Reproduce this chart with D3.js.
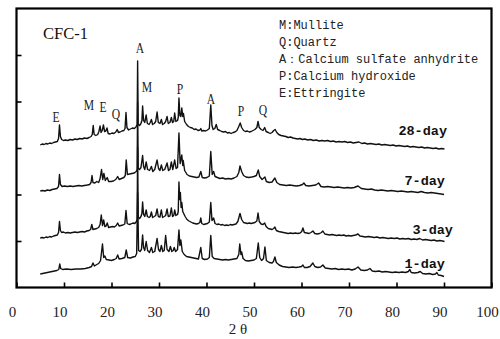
<!DOCTYPE html>
<html><head><meta charset="utf-8">
<script src="https://cdn.jsdelivr.net/npm/d3@7/dist/d3.min.js"></script>
<style>body{margin:0;background:#fff}svg{display:block}</style>
</head><body>
<svg id="c" width="500" height="339"></svg>
<script>
// ---- data (2θ in degrees, intensity in a.u.) ----
const xTicks = [0,10,20,30,40,50,60,70,80,90,100];
const yTicks = [46.5,93,139.5,186,232.5];
const seriesNames = ["28-day","7-day","3-day","1-day"];
const phaseNames = ["M:Mullite","Q:Quartz","A：Calcium sulfate anhydrite","P:Calcium hydroxide","E:Ettringite"];
const peakTags = ["E","M","E","Q","A","M","P","A","P","Q"];

const day28 = [[5.0,142.5],[5.4,143.5],[5.8,143],[6.2,144],[6.6,143.5],[7.0,144.5],[7.4,144],[7.8,145],[8.2,145.5],[8.6,146],[8.85,149],[9.05,162.5],[9.25,151],[9.5,148],[9.9,147],[10.3,147.5],[10.8,147],[11.3,148],[11.8,147.5],[12.3,148.5],[12.8,148],[13.3,149],[13.8,148.5],[14.3,149.5],[14.8,149],[15.3,150],[15.7,151],[15.95,153],[16.15,162],[16.35,153],[16.7,152],[17.1,153],[17.35,156],[17.6,161.5],[17.8,155],[18.05,157],[18.3,162.5],[18.55,156],[18.8,156.5],[19.05,159.5],[19.3,154],[19.7,153.5],[20.1,154.5],[20.5,154],[20.9,155.5],[21.2,158],[21.45,155],[21.8,155.5],[22.2,156.5],[22.6,157],[22.85,159],[23.05,175],[23.25,160],[23.6,157.5],[24.0,158.5],[24.4,159.5],[24.8,159],[25.15,160.5],[25.4,163],[25.5,226.5],[25.62,163],[25.9,162],[26.2,164],[26.4,167],[26.55,181.5],[26.75,167],[27.0,165],[27.3,172.5],[27.55,164],[27.9,163],[28.15,165],[28.4,168],[28.65,163],[29.0,164],[29.3,166],[29.6,175.5],[29.85,165],[30.2,164],[30.5,168],[30.75,163],[31.1,164],[31.4,166],[31.7,171],[31.95,164],[32.3,165],[32.6,170],[32.85,165],[33.1,166],[33.3,174.5],[33.55,166],[33.9,167],[34.05,170],[34.2,189.5],[34.4,172],[34.6,171],[34.8,179.5],[35.0,171],[35.15,174],[35.4,166],[35.8,163],[36.2,161],[36.6,160],[37.0,159.5],[37.4,158],[37.8,158.5],[38.2,157],[38.6,157.5],[38.8,159],[39.0,156.5],[39.4,157],[39.8,156.5],[40.2,157.5],[40.6,159],[40.9,182.5],[41.15,162],[41.4,158],[41.75,159],[42.05,163],[42.35,158],[42.8,157],[43.2,156],[43.6,155.5],[44.0,156],[44.4,154.5],[44.8,155],[45.2,154],[45.6,155],[46.0,155.5],[46.4,157],[46.75,160.5],[47.1,164.5],[47.4,160],[47.8,157],[48.2,156],[48.6,156.5],[49.0,155.5],[49.4,156],[49.8,157],[50.2,158],[50.6,160],[50.85,166],[51.1,160],[51.5,158],[51.9,157],[52.25,160],[52.55,156],[53.0,155],[53.4,154],[53.8,155],[54.15,157],[54.45,158],[54.8,155],[55.2,153],[55.7,152],[56.2,151.5],[56.7,151],[57.2,150],[57.7,150.5],[58.2,149.5],[58.7,149],[59.2,148.5],[59.7,149],[60.2,148],[60.7,148.5],[61.3,147.5],[61.9,148],[62.5,147],[63.1,147.5],[63.7,146.5],[64.3,147],[64.9,146.5],[65.5,147],[66.1,146],[66.7,146.5],[67.3,145.5],[67.9,146],[68.5,145.5],[69.1,146],[69.7,145],[70.3,145.5],[70.9,144.5],[71.5,145],[72.1,145.5],[72.7,144],[73.3,144.5],[73.9,143.5],[74.5,144],[75.1,143.5],[75.7,143],[76.3,143.5],[76.9,142.5],[77.5,143],[78.1,142.5],[78.7,142],[79.3,142.5],[79.9,141.5],[80.5,142],[81.1,141.5],[81.7,141],[82.3,141.5],[82.9,140.5],[83.5,141],[84.1,140.5],[84.7,140],[85.3,140.5],[85.9,139.5],[86.5,140],[87.1,139.5],[87.7,139],[88.3,139.5],[88.9,138.5],[89.5,139],[90.1,138.5]];

const day7 = [[5.0,96.5],[5.5,97],[6.0,96.5],[6.5,97.5],[7.0,97],[7.5,98],[8.0,98.5],[8.5,99],[8.85,101],[9.05,113],[9.25,103],[9.6,101],[10.1,101.5],[10.7,101],[11.3,101.5],[11.9,101],[12.5,101.5],[13.1,102],[13.7,101.5],[14.3,102],[14.9,102.5],[15.4,103],[15.7,105],[15.9,112],[16.1,105],[16.5,104.5],[16.9,106],[17.3,105],[17.6,109],[17.9,118],[18.15,108],[18.4,114],[18.7,107],[19.1,110],[19.4,106],[19.9,106],[20.4,106.5],[20.9,108],[21.3,111],[21.6,108],[22.1,109],[22.6,110],[22.9,112],[23.1,127.5],[23.35,113],[23.8,113.5],[24.3,114],[24.8,114.5],[25.2,116],[25.4,118],[25.5,185],[25.62,119],[25.9,118],[26.2,120],[26.55,132],[26.75,121],[27.0,118],[27.3,125.5],[27.6,118],[28.0,117],[28.4,121],[28.7,116],[29.1,118],[29.6,127.5],[29.9,119],[30.2,117],[30.5,122.5],[30.8,117],[31.2,118],[31.7,124.5],[32.0,117],[32.3,118],[32.6,125.5],[32.9,118],[33.3,127.5],[33.6,119],[33.9,120],[34.2,154.5],[34.45,124],[34.8,132.5],[35.0,122],[35.1,127],[35.4,117],[35.9,113],[36.4,111.5],[36.9,111],[37.4,110.5],[37.9,110],[38.4,110.5],[38.8,116],[39.1,110],[39.6,109.5],[40.1,110],[40.6,111.5],[40.9,136],[41.2,113],[41.5,116],[41.8,111],[42.3,110],[42.8,109],[43.4,109.5],[44.0,108.5],[44.6,109],[45.2,108.5],[45.8,109.5],[46.4,111],[46.8,115],[47.05,121.5],[47.4,116],[47.8,112],[48.3,110.5],[48.9,110],[49.5,110.5],[50.0,111],[50.5,112],[50.9,117.5],[51.2,111],[51.7,108],[52.3,110.5],[52.6,106],[53.2,105],[53.8,105.5],[54.4,109.5],[54.8,105],[55.4,103],[56.1,102.5],[56.8,102],[57.5,102.5],[58.2,102],[58.9,101.5],[59.6,102],[60.2,103],[60.5,104.5],[60.9,102],[61.6,101.5],[62.3,102],[63.0,102.5],[63.6,104.5],[64.1,101],[64.8,100.5],[65.5,101],[66.2,100.5],[66.9,100],[67.6,100.5],[68.3,100],[69.0,99.5],[69.7,100],[70.4,99.5],[71.1,100],[71.9,101.5],[72.6,99],[73.3,98.5],[74.0,98],[74.7,98.5],[75.4,97.5],[76.1,97],[76.8,97.5],[77.5,97],[78.2,96.5],[78.9,97],[79.6,96.5],[80.3,96],[81.0,96.5],[81.7,96],[82.4,95.5],[83.1,96],[83.8,95.5],[84.5,95],[85.2,96],[85.9,95],[86.6,94.5],[87.3,95],[88.0,94.5],[88.7,94],[89.4,93.5],[90.0,93]];

const day3 = [[5.0,49.5],[5.4,50],[5.8,49.5],[6.2,50.5],[6.6,50],[7.0,51],[7.4,50.5],[7.8,51.5],[8.2,52],[8.6,52.5],[8.85,55],[9.05,66],[9.25,57],[9.5,55],[9.9,55.5],[10.3,54.5],[10.8,55],[11.3,54.5],[11.8,55],[12.3,55.5],[12.8,55],[13.3,55.5],[13.8,56],[14.3,55.5],[14.8,56.5],[15.3,57],[15.6,58],[15.85,63],[16.1,58],[16.5,58.5],[16.9,59],[17.3,60],[17.6,63],[17.85,72.5],[18.1,62],[18.35,67.5],[18.6,61],[18.85,61.5],[19.1,64.5],[19.4,60],[19.8,60.5],[20.2,61],[20.6,60.5],[21.0,62],[21.3,64.5],[21.6,61.5],[22.0,62],[22.4,62.5],[22.8,63.5],[23.05,77],[23.3,64],[23.7,63],[24.1,63.5],[24.5,64.5],[24.9,64],[25.25,66],[25.4,68],[25.5,140],[25.62,70],[25.9,69],[26.2,71],[26.4,74],[26.55,85.5],[26.75,73],[27.0,71],[27.3,77.5],[27.55,71],[27.9,70],[28.15,71],[28.4,75.5],[28.65,70],[29.0,71],[29.3,72],[29.6,78.5],[29.85,71],[30.2,70.5],[30.5,77.5],[30.75,70],[31.1,71],[31.4,72],[31.7,78.5],[31.95,71],[32.3,71.5],[32.6,79.5],[32.85,71],[33.1,72],[33.3,77.5],[33.55,72],[33.9,73],[34.05,76],[34.2,105.5],[34.35,88],[34.5,95],[34.65,80],[34.8,85],[35.0,76],[35.2,74],[35.5,71],[35.9,68],[36.3,66.5],[36.7,65.5],[37.1,64.5],[37.5,64],[37.9,63.5],[38.3,64],[38.6,65],[38.8,69.5],[39.0,64],[39.4,63],[39.8,63.5],[40.2,64],[40.6,65.5],[40.9,85],[41.15,67],[41.5,69.5],[41.8,64],[42.2,63],[42.6,63.5],[43.0,62.5],[43.4,63],[43.8,62],[44.2,62.5],[44.6,62],[45.0,63],[45.4,62.5],[45.8,63],[46.2,63.5],[46.6,66],[47.05,74],[47.4,68],[47.8,65],[48.2,64.5],[48.6,64],[49.0,64.5],[49.4,64],[49.8,64.5],[50.2,65],[50.6,66.5],[50.85,74.5],[51.1,66],[51.5,63.5],[51.9,63],[52.25,64.5],[52.55,61],[53.0,59],[53.4,58.5],[53.8,58],[54.15,59],[54.4,60.5],[54.7,57],[55.2,56],[55.7,55.5],[56.2,55],[56.7,54.5],[57.2,54],[57.7,54.5],[58.2,54],[58.7,54.5],[59.2,54],[59.7,54.5],[60.05,56],[60.3,59.5],[60.6,55],[61.1,54.5],[61.6,54],[62.0,55],[62.4,56.5],[62.8,54],[63.3,53.5],[63.8,54],[64.2,55],[64.5,56.5],[64.9,53.5],[65.4,53],[65.9,52.5],[66.4,53],[66.9,52.5],[67.4,52],[67.9,52.5],[68.4,52],[68.9,52.5],[69.4,51.5],[69.9,52],[70.4,51.5],[70.9,52],[71.4,52.5],[71.9,53.5],[72.3,51.5],[72.9,51],[73.5,50.5],[74.1,51],[74.7,50.5],[75.3,50],[75.9,50.5],[76.5,49.5],[77.1,50],[77.7,49.5],[78.3,49],[78.9,49.5],[79.5,49],[80.1,49.5],[80.7,48.5],[81.3,49],[81.9,48.5],[82.5,49],[83.1,48],[83.7,48.5],[84.3,48],[84.9,49],[85.5,47.5],[86.1,48],[86.7,47.5],[87.3,47],[87.9,47.5],[88.5,46.5],[89.1,47],[89.7,46.5],[90.1,46]];

const day1 = [[5.0,13.5],[5.5,14],[6.0,14.5],[6.5,15],[7.0,15.5],[7.5,16],[8.0,16.5],[8.5,17],[8.9,18],[9.1,23.5],[9.3,19],[9.7,18],[10.5,18.5],[11.5,18],[12.5,18.5],[13.5,18.5],[14.5,19],[15.3,20],[15.8,21],[16.1,24.5],[16.4,21.5],[16.9,23],[17.3,24],[17.7,27],[18.1,43.5],[18.35,30],[18.6,31.5],[18.9,28],[19.5,27.5],[20.0,27],[20.6,28],[21.0,29],[21.3,32.5],[21.6,28.5],[22.2,29],[22.8,30],[23.1,37.5],[23.4,30],[24.0,29.5],[24.5,30.5],[25.0,31],[25.3,34],[25.5,95],[25.7,37],[26.0,36],[26.3,38],[26.55,52.5],[26.75,40],[27.0,37],[27.3,46],[27.6,37],[28.0,35],[28.4,40],[28.7,35],[29.1,36],[29.6,49],[29.9,38],[30.2,36],[30.5,42],[30.8,36],[31.1,37],[31.4,52],[31.7,38],[32.1,36],[32.4,41],[32.7,36],[33.0,37],[33.2,40],[33.5,36],[33.9,38],[34.2,57.5],[34.4,42],[34.6,47.5],[34.9,36],[35.3,33],[35.8,31],[36.3,30.5],[36.8,30],[37.3,29.5],[37.8,29],[38.3,28.5],[38.8,40],[39.1,29],[39.6,28],[40.2,28.5],[40.6,30],[40.9,52],[41.2,31],[41.6,29],[42.2,28.5],[42.8,28],[43.4,27.5],[44.0,28],[44.6,27.5],[45.2,28],[45.8,28.5],[46.4,29],[46.8,33],[47.0,43.5],[47.25,33],[47.4,35.5],[47.7,29],[48.2,27],[48.8,26.5],[49.4,27],[50.0,27.5],[50.5,29],[50.9,44.5],[51.2,30],[51.6,27],[52.0,29],[52.3,40.5],[52.6,27],[53.2,25],[53.8,24.5],[54.1,26],[54.4,30.5],[54.7,25],[55.3,22.5],[56.0,21],[56.7,20.5],[57.4,20],[58.1,20.5],[58.8,20],[59.5,20.5],[60.0,21],[60.3,22.5],[60.6,20],[61.2,20],[61.8,21],[62.4,24.5],[62.8,21],[63.4,20],[64.0,20.5],[64.5,22.5],[65.0,19.5],[65.7,19],[66.4,18.5],[67.1,19],[67.8,18],[68.5,18.5],[69.2,18],[69.9,18.5],[70.6,17.5],[71.3,18.5],[71.9,20.5],[72.5,17.5],[73.2,17],[73.9,17.5],[74.4,19],[74.9,16.5],[75.6,16],[76.3,16.5],[77.0,15.5],[77.7,16],[78.4,15.5],[79.1,15],[79.8,15.5],[80.5,15],[81.2,15.5],[81.9,15],[82.5,16],[82.8,18],[83.1,15],[83.8,14.5],[84.5,15],[85.0,16],[85.5,14],[86.2,13.5],[86.9,14],[87.6,13],[88.2,13.5],[88.5,15],[88.8,12.5],[89.4,12],[90.0,11]];

const seriesData = [day28, day7, day3, day1];

// ---- layout ----
const W = 500, H = 339;
const L = 16.5, R = 491.5, T = 8.5, B = 287.5;
const svg = d3.select("#c");
const x = d3.scaleLinear().domain([0,100]).range([L,R]);
const y = d3.scaleLinear().domain([0,279]).range([B,T]);

// traces
const line = d3.line().x(d => x(d[0])).y(d => y(d[1]));
svg.append("g").selectAll("path").data(seriesData).join("path")
  .attr("d", line).attr("fill","none").attr("stroke","#111")
  .attr("stroke-width",1.4).attr("stroke-linejoin","round");

// axes (ticks inside)
const gx = svg.append("g").attr("transform",`translate(0,${B})`)
  .call(d3.axisBottom(x).tickValues(xTicks).tickSize(-5).tickPadding(18.5).tickFormat(d3.format("d")));
gx.select(".domain").remove();
gx.attr("font-family","'Liberation Serif', 'Times New Roman', serif").attr("font-size",15);
gx.selectAll("text").attr("fill","#222").attr("dx",-4.5);
gx.selectAll("line").attr("stroke","#000").attr("stroke-width",1.6);

const gy = svg.append("g").attr("transform",`translate(${L},0)`)
  .call(d3.axisLeft(y).tickValues(yTicks).tickSize(-5).tickFormat(() => ""));
gy.select(".domain").remove();
gy.selectAll("line").attr("stroke","#000").attr("stroke-width",1.6);

// frame
svg.append("rect").attr("x",L).attr("y",T).attr("width",R-L).attr("height",B-T)
  .attr("fill","none").attr("stroke","#000").attr("stroke-width",2.2);

// sample name
svg.append("text").attr("x",43).attr("y",39).text("CFC-1")
  .attr("font-family","'Liberation Serif', serif").attr("font-size",16.5).attr("fill","#111");

// peak tags
const tagX = [8.32,15.26,18.21,20.95,26.0,27.47,34.42,40.95,47.26,51.89];
const tagY = [165.8,177.5,175.8,168.5,234.5,195.8,193.5,183.5,171.5,172.5];
svg.append("g").selectAll("text").data(peakTags).join("text")
  .attr("transform",(d,i)=>`translate(${x(tagX[i])},${y(tagY[i])}) scale(0.8,1)`)
  .attr("text-anchor","middle").text(d=>d)
  .attr("font-family","'Liberation Serif', serif").attr("font-size",14.5).attr("fill","#222");

// day labels
const dayX = [90.63,90.21,91.89,90.21];
const dayY = [152.5,102.5,53.5,19.5];
svg.append("g").selectAll("text").data(seriesNames).join("text")
  .attr("x",(d,i)=>x(dayX[i])).attr("y",(d,i)=>y(dayY[i]))
  .attr("text-anchor","end").text(d=>d)
  .attr("font-family","'Liberation Mono', monospace").attr("font-weight","bold")
  .attr("font-size",13.5).attr("fill","#111");

// phase legend
svg.append("g").selectAll("text").data(phaseNames).join("text")
  .attr("x",279).attr("y",(d,i)=>29+i*17).text(d=>d)
  .attr("font-family","'Liberation Mono', monospace").attr("font-size",12).attr("fill","#222");

// axis title
svg.append("text").attr("x",238).attr("y",334).attr("text-anchor","middle").text("2 θ")
  .attr("font-family","'Liberation Serif', serif").attr("font-size",15).attr("fill","#222");
</script>
</body></html>
